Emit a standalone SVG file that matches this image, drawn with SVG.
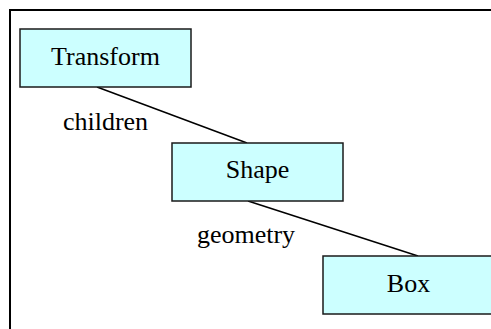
<svg xmlns="http://www.w3.org/2000/svg" width="491" height="329" viewBox="0 0 491 329">
<style>
.node rect{fill:#ccffff;stroke:#1a1a1a;stroke-width:1.5}
text{font-family:"Liberation Serif","Times New Roman",serif;font-size:26px;fill:#000}
.lbl{text-anchor:middle}
.conn line{stroke:#000;stroke-width:1.5}
</style>
<rect x="10" y="10" width="492" height="330" fill="#fff" stroke="#000" stroke-width="2"/>
<g class="conn" id="connectors">
<line x1="97" y1="87" x2="247" y2="143"/>
<line x1="248" y1="201" x2="418" y2="256"/>
</g>
<text x="105.5" y="130" class="lbl">children</text>
<text x="246" y="243" class="lbl">geometry</text>
<g class="node" id="transform">
<rect x="20" y="29" width="171" height="58"/>
<text x="105.5" y="65" class="lbl">Transform</text>
</g>
<g class="node" id="shape">
<rect x="172" y="143" width="171" height="58"/>
<text x="257.5" y="178" class="lbl">Shape</text>
</g>
<g class="node" id="box">
<rect x="323" y="256" width="171" height="58"/>
<text x="408.5" y="292" class="lbl">Box</text>
</g>
</svg>
